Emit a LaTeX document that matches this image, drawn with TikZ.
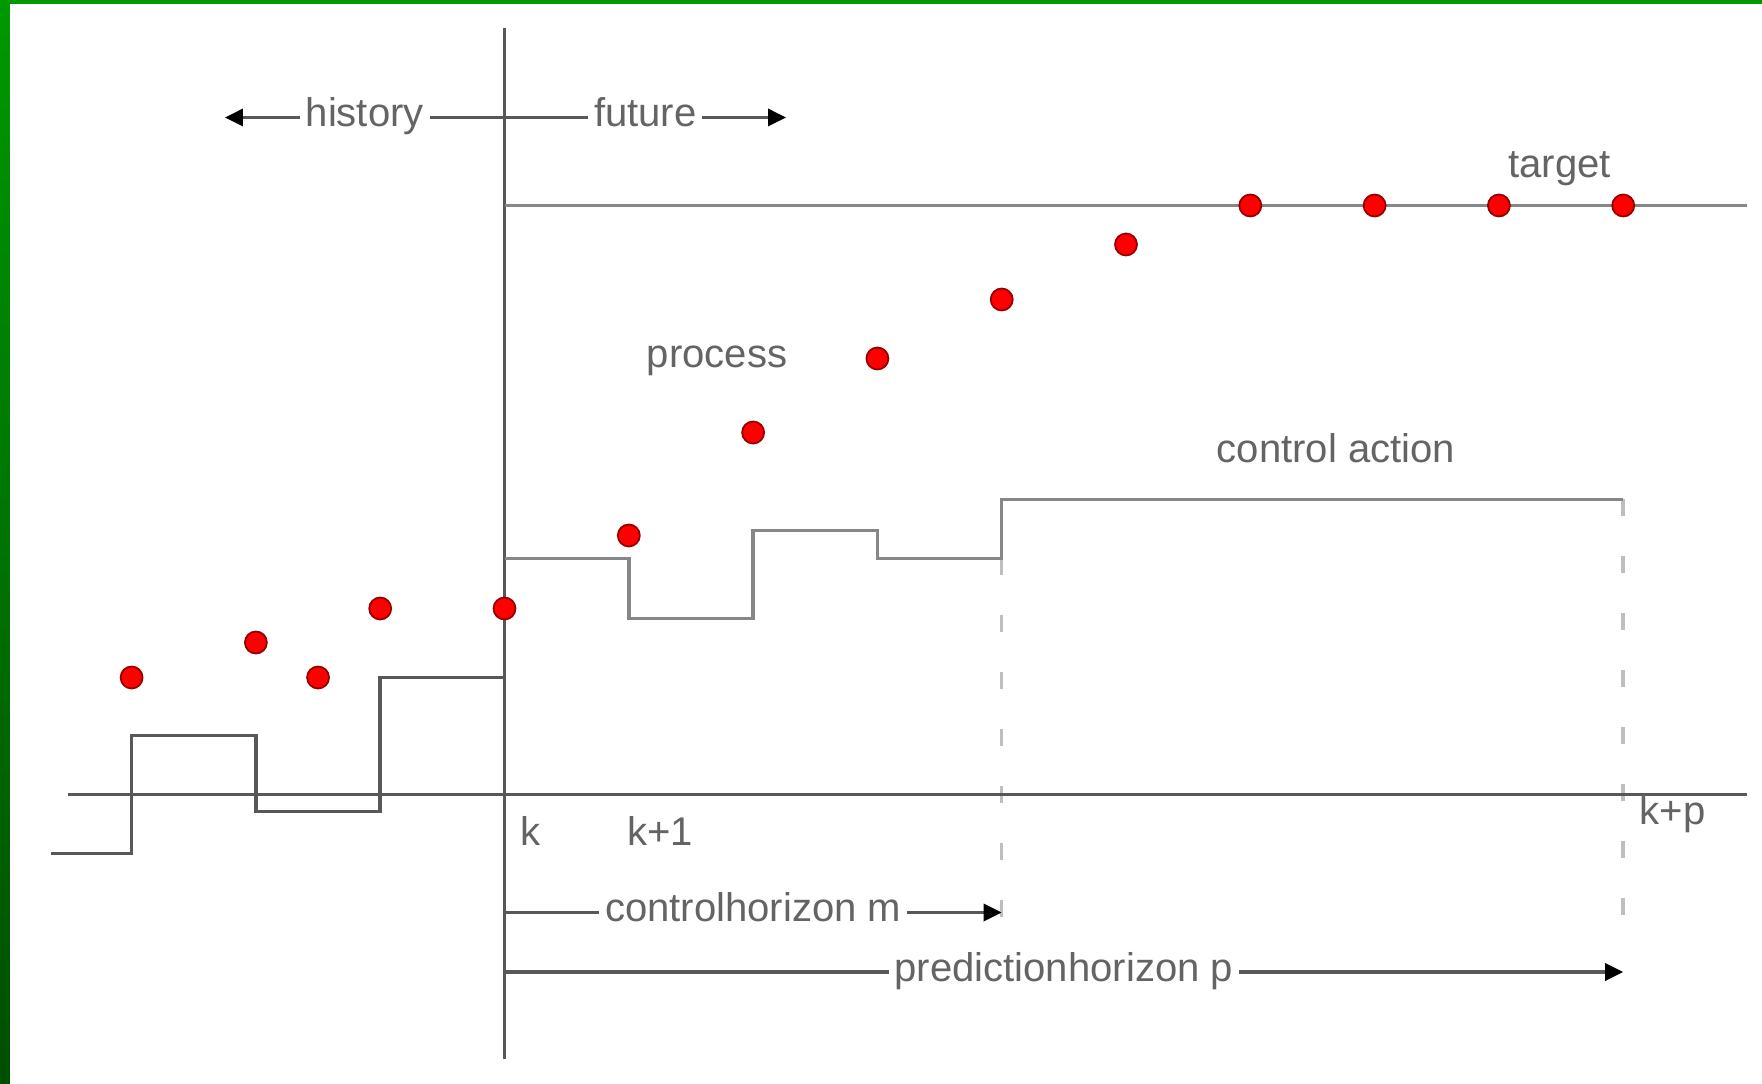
\documentclass[tikz,border=0pt]{standalone}
\usepackage{fontspec}
\setmainfont{Liberation Sans}
\usepackage{tikz}
\usetikzlibrary{positioning}
\usetikzlibrary{arrows.meta}

\definecolor{frame}{RGB}{0,153,0}
\definecolor{framedark}{RGB}{0,78,0}
\definecolor{axisgray}{RGB}{88,88,88}
\definecolor{futgray}{RGB}{135,135,135}
\definecolor{dashgray}{RGB}{190,190,190}
\definecolor{txtgray}{RGB}{100,100,100}
\definecolor{dotred}{RGB}{255,0,0}
\definecolor{dotedge}{RGB}{150,0,0}

\newcommand{\tstep}{1.243}

\begin{document}
\begin{tikzpicture}[
    % arrow tips and lines
    tip/.style={-{Triangle[length=0.18cm, width=0.17cm, color=black]}},
    axisline/.style={draw=axisgray, line width=0.035cm},
    pastline/.style={draw=axisgray, line width=0.035cm},
    futline/.style={draw=futgray, line width=0.035cm},
    dashline/.style={draw=dashgray, line width=0.035cm, dash pattern=on 0.17cm off 0.4cm},
    % text and points
    txt/.style={text=txtgray, inner sep=0pt, font=\fontsize{11.4pt}{13pt}\selectfont},
    lbl/.style={txt, fill=white, inner xsep=0.06cm, inner ysep=0.03cm, text height=1ex, text depth=0pt},
    dot/.style={circle, fill=dotred, draw=dotedge, line width=0.5pt, minimum size=0.22cm, inner sep=0pt}
]

    % page and green frame
    \useasboundingbox (-5.045,-2.885) rectangle (12.575,7.945);
    \fill[white] (-5.045,-2.885) rectangle (12.575,7.945);
    \shade[top color=frame, bottom color=framedark] (-5.045,-2.885) rectangle (-4.945,7.945);
    \fill[frame] (-5.045,7.905) rectangle (12.575,7.945);

    % end points
    \coordinate (k-top) at (0,7.665);
    \coordinate (k-bot) at (0,-2.645);
    \coordinate (ax-l) at (-4.36,0);
    \coordinate (ax-r) at (12.425,0);
    \coordinate (now) at (0,6.77);
    \coordinate (hist-end) at (-2.795,6.77);
    \coordinate (fut-end) at (2.815,6.77);
    \coordinate (tgt-l) at (0,5.89);
    \coordinate (tgt-r) at (12.425,5.89);
    \coordinate (m-start) at (0,-1.18);
    \coordinate (m-end) at ({4*\tstep},-1.18);
    \coordinate (p-start) at (0,-1.775);
    \coordinate (p-end) at ({9*\tstep},-1.775);

    % horizon markers
    \draw[dashline] ({4*\tstep},2.36) -- ({4*\tstep},-1.275);
    \draw[dashline] ({9*\tstep},2.95) -- ({9*\tstep},-1.275);

    % axes and target
    \draw[axisline] (ax-l) -- (ax-r);
    \draw[axisline] (k-top) -- (k-bot);
    \draw[futline] (tgt-l) -- (tgt-r);

    % past and future control moves
    \draw[pastline] (-4.53,-0.59) -| ({-3*\tstep},0.59) -| ({-2*\tstep},-0.17) -| ({-\tstep},1.17) -- (0,1.17);
    \draw[futline] (0,2.36) -| (\tstep,1.76) -| ({2*\tstep},2.64) -| ({3*\tstep},2.36) -| ({4*\tstep},2.95) -- ({9*\tstep},2.95);

    % history / future
    \draw[axisline, tip] (now) -- node[lbl] (history) {history\ } (hist-end);
    \draw[axisline, tip] (now) -- node[lbl] (future) {future\ } (fut-end);

    % horizons
    \draw[axisline, tip] (m-start) -- node[lbl] (ctrlhor) {controlhorizon m\ } (m-end);
    \draw[axisline, tip] (p-start) -- node[lbl] (predhor) {predictionhorizon p\ } (p-end);

    % labels
    \node[txt, anchor=base] (target) at (10.55,6.165) {target};
    \node[txt, anchor=base] (process) at (2.125,4.265) {process};
    \node[txt, anchor=base] (action) at (8.315,3.315) {control action};
    \node[txt, anchor=base west] (lk) at (0.155,-0.512) {k};
    \node[txt, anchor=base west] (lk1) at (1.22,-0.512) {k+1};
    \node[txt, anchor=base west] (lkp) at (11.345,-0.30) {k+p};

    % process output samples
    \foreach \s/\y [count=\i] in {-3/1.17, -2/1.52, -1.5/1.17, -1/1.86, 0/1.86, 1/2.59, 2/3.62, 3/4.36, 4/4.95, 5/5.50, 6/5.89, 7/5.89, 8/5.89, 9/5.89} {
        \node[dot] (y\i) at ({\s*\tstep},\y) {};
    }

\end{tikzpicture}
\end{document}
